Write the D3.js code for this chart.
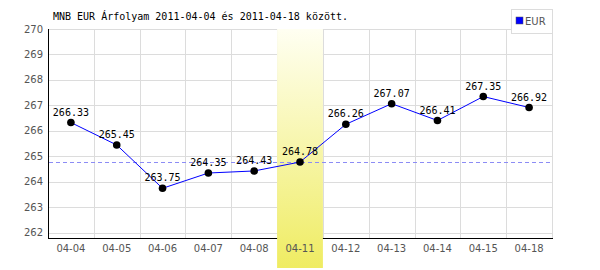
<!DOCTYPE html>
<html>
<head>
<meta charset="utf-8">
<script src="https://cdn.jsdelivr.net/npm/d3@7"></script>
<style>
    body { margin: 0; background: #fff; }
    svg { display: block; }
</style>
</head>
<body>
<div id="chart"></div>
<script>
// data
const days = ["04-04", "04-05", "04-06", "04-07", "04-08", "04-11", "04-12", "04-13", "04-14", "04-15", "04-18"];
const rates = [266.33, 265.45, 263.75, 264.35, 264.43, 264.78, 266.26, 267.07, 266.41, 267.35, 266.92];
const yTicks = [262, 263, 264, 265, 266, 267, 268, 269, 270];
const highlightDay = "04-11";
const refValue = 264.78;
const seriesName = "EUR";
const title = "MNB EUR Árfolyam 2011-04-04 és 2011-04-18 között.";

const W = 600, H = 270;
const margin = {top: 29, right: 48, bottom: 32, left: 48},
    width = W - margin.left - margin.right,
    height = H - margin.top - margin.bottom;

const svg = d3.select("#chart").append("svg")
    .attr("width", W)
    .attr("height", H);

const x = d3.scaleBand()
    .domain(days)
    .range([margin.left, margin.left + width])
    .padding(0);

const y = d3.scaleLinear()
    .domain([261.8, 270])
    .range([margin.top + height, margin.top]);

// highlight gradient
const grad = svg.append("defs").append("linearGradient")
    .attr("id", "hl")
    .attr("x1", 0).attr("y1", 0).attr("x2", 0).attr("y2", 1);
grad.append("stop").attr("offset", "0%").attr("stop-color", "#fffff2");
grad.append("stop").attr("offset", "100%").attr("stop-color", "#efec62");

// grid
const grid = svg.append("g").attr("stroke", "#dcdcdc").attr("stroke-width", 1);
grid.selectAll("line.h")
    .data(yTicks)
    .enter().append("line")
    .attr("x1", margin.left).attr("x2", margin.left + width)
    .attr("y1", d => Math.round(y(d)) + 0.5)
    .attr("y2", d => Math.round(y(d)) + 0.5);
grid.selectAll("line.v")
    .data(days.slice(1).concat(["end"]))
    .enter().append("line")
    .attr("x1", (d, i) => Math.round(x(days[0]) + (i + 1) * x.bandwidth()) + 0.5)
    .attr("x2", (d, i) => Math.round(x(days[0]) + (i + 1) * x.bandwidth()) + 0.5)
    .attr("y1", y(270)).attr("y2", margin.top + height);

// axis lines
svg.append("line")
    .attr("x1", margin.left + 0.5).attr("x2", margin.left + 0.5)
    .attr("y1", y(270)).attr("y2", margin.top + height + 1)
    .attr("stroke", "#000");
svg.append("line")
    .attr("x1", margin.left).attr("x2", margin.left + width + 1)
    .attr("y1", margin.top + height + 0.5).attr("y2", margin.top + height + 0.5)
    .attr("stroke", "#000");

// highlighted day
svg.append("rect")
    .attr("x", x(highlightDay))
    .attr("y", y(270))
    .attr("width", x.bandwidth())
    .attr("height", H - 2 - y(270))
    .attr("fill", "url(#hl)");

// y labels
svg.append("g")
    .selectAll("text")
    .data(yTicks)
    .enter().append("text")
    .attr("x", 43)
    .attr("y", d => y(d))
    .attr("dy", "0.35em")
    .attr("text-anchor", "end")
    .attr("font-family", "DejaVu Sans")
    .attr("font-size", 10)
    .attr("fill", "#555")
    .text(d => d);

// x labels
svg.append("g")
    .selectAll("text")
    .data(days)
    .enter().append("text")
    .attr("x", d => x(d) + x.bandwidth() / 2)
    .attr("y", 252)
    .attr("text-anchor", "middle")
    .attr("font-family", "DejaVu Sans")
    .attr("font-size", 10)
    .attr("fill", "#555")
    .text(d => d);

// reference line
svg.append("line")
    .attr("x1", margin.left + 1).attr("x2", margin.left + width)
    .attr("y1", Math.round(y(refValue)) + 0.5).attr("y2", Math.round(y(refValue)) + 0.5)
    .attr("stroke", "#8c8cf5")
    .attr("stroke-dasharray", "4,3");

// series
const line = d3.line()
    .x((d, i) => x(days[i]) + x.bandwidth() / 2)
    .y(d => y(d));

svg.append("path")
    .datum(rates)
    .attr("d", line)
    .attr("fill", "none")
    .attr("stroke", "#0000ff")
    .attr("stroke-width", 1);

svg.append("g")
    .selectAll("circle")
    .data(rates)
    .enter().append("circle")
    .attr("cx", (d, i) => x(days[i]) + x.bandwidth() / 2)
    .attr("cy", d => y(d))
    .attr("r", 3.8)
    .attr("fill", "#000");

svg.append("g")
    .selectAll("text")
    .data(rates)
    .enter().append("text")
    .attr("x", (d, i) => x(days[i]) + x.bandwidth() / 2)
    .attr("y", d => y(d) - 7)
    .attr("text-anchor", "middle")
    .attr("font-family", "DejaVu Sans Mono")
    .attr("font-size", 10)
    .attr("fill", "#000")
    .text(d => d.toFixed(2));

// title
svg.append("text")
    .attr("x", 53)
    .attr("y", 20)
    .attr("font-family", "DejaVu Sans Mono")
    .attr("font-size", 10)
    .attr("fill", "#000")
    .text(title);

// legend
const legend = svg.append("g");
legend.append("rect")
    .attr("x", 511.5).attr("y", 9.5)
    .attr("width", 41).attr("height", 24)
    .attr("fill", "#fff")
    .attr("stroke", "#dcdcdc");
legend.append("rect")
    .attr("x", 516).attr("y", 17)
    .attr("width", 7).attr("height", 7)
    .attr("fill", "#0000ff")
    .attr("stroke", "#555")
    .attr("stroke-width", 0.5);
legend.append("text")
    .attr("x", 525).attr("y", 24.5)
    .attr("font-family", "DejaVu Sans")
    .attr("font-size", 10)
    .attr("fill", "#555")
    .text(seriesName);
</script>
</body>
</html>
